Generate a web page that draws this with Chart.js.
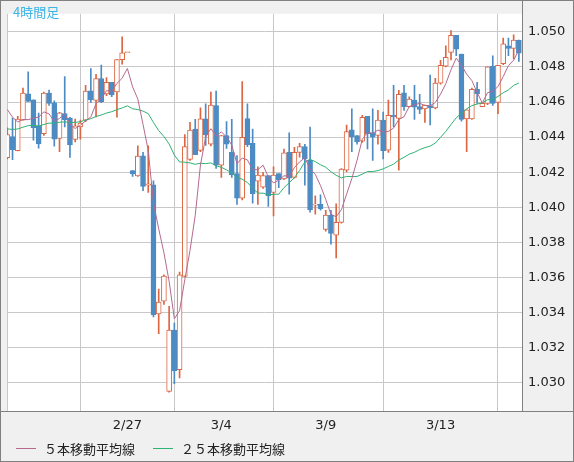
<!DOCTYPE html>
<html><head><meta charset="utf-8">
<script src="https://cdn.jsdelivr.net/npm/chart.js@4/dist/chart.umd.min.js"></script>
<style>
html,body{margin:0;padding:0;background:#f0f0f0;}
#wrap{position:relative;width:574px;height:462px;overflow:hidden;}
canvas{position:absolute;left:0;top:0;}
.t{position:absolute;font-family:"DejaVu Sans",sans-serif;font-size:13px;color:#222;white-space:nowrap;}
.ln{position:absolute;height:1px;width:20px;}
</style></head><body>
<div id="wrap">
<canvas id="c" width="574" height="462"></canvas>
<div class="t" style="left:13px;top:2px;color:#3cb4e6;font-family:'Noto Sans CJK JP',sans-serif;font-size:13px;">4時間足</div>
<div class="ln" style="left:16px;top:448px;background:#b5698f"></div>
<div class="t" style="left:44px;top:439px;font-family:'Noto Sans CJK JP',sans-serif;">５本移動平均線</div>
<div class="ln" style="left:153px;top:448px;background:#2fb273"></div>
<div class="t" style="left:181px;top:439px;font-family:'Noto Sans CJK JP',sans-serif;">２５本移動平均線</div>
</div>
<script>
const xTickIndex=[23,41,61,83];
const xTickLabels=['2/27','3/4','3/9','3/13'];
const yTicks=[1.030,1.032,1.034,1.036,1.038,1.040,1.042,1.044,1.046,1.048,1.050];
const priorCloses=[1.0441,1.0443,1.0440,1.0438,1.0442,1.0445,1.0443,1.0440,1.0439,1.0441,1.0444,1.0446,1.0443,1.0440,1.0441,1.0443,1.0442,1.0440,1.0442,1.0445,1.04552,1.04635,1.0458,1.04607];
const opens=[1.04282,1.04403,1.04322,1.04497,1.04646,1.04613,1.04464,1.0442,1.04651,1.04596,1.04392,1.04534,1.04508,1.04387,1.04458,1.04497,1.04664,1.04609,1.04734,1.04646,1.04712,1.04657,1.04842,1.04881,1.04209,1.04179,1.04293,1.04126,1.04128,1.03391,1.03465,1.0295,1.033,1.03074,1.03606,1.04273,1.04446,1.04324,1.04504,1.04359,1.0458,1.0424,1.04409,1.04313,1.04192,1.04052,1.04506,1.04365,1.04148,1.04115,1.04181,1.04084,1.04192,1.04162,1.04313,1.0417,1.04313,1.04346,1.04267,1.04012,1.04016,1.03873,1.03955,1.0384,1.03914,1.04212,1.04442,1.04409,1.04377,1.04519,1.04424,1.04409,1.04497,1.04326,1.04524,1.04506,1.04653,1.04574,1.04611,1.04574,1.04561,1.0458,1.04567,1.04708,1.04804,1.04883,1.0498,1.04873,1.04504,1.04504,1.04672,1.04574,1.04592,1.04805,1.04598,1.04818,1.0492,1.04905,1.04953];
const highs=[1.04453,1.04508,1.04519,1.04679,1.04772,1.04613,1.04537,1.04657,1.04668,1.04607,1.04541,1.04745,1.04513,1.04502,1.04497,1.04695,1.04791,1.04758,1.04811,1.04739,1.04712,1.04842,1.04971,1.04881,1.04209,1.0435,1.04313,1.0435,1.0415,1.03533,1.03614,1.03435,1.0334,1.0363,1.04414,1.04484,1.04501,1.04567,1.04589,1.04657,1.04662,1.04409,1.04488,1.04501,1.04295,1.04717,1.04589,1.04446,1.04231,1.04199,1.04181,1.04231,1.04192,1.04332,1.04424,1.04341,1.04365,1.04359,1.04457,1.04065,1.04071,1.03983,1.03983,1.04019,1.04221,1.04469,1.04561,1.04409,1.04524,1.04519,1.04561,1.04552,1.04543,1.04611,1.04695,1.04666,1.04695,1.04629,1.04695,1.04644,1.04583,1.04754,1.04735,1.04837,1.0492,1.05008,1.0498,1.04873,1.04556,1.0468,1.04712,1.04592,1.048,1.04864,1.04809,1.04965,1.04965,1.04983,1.04953];
const lows=[1.04276,1.04271,1.04321,1.04497,1.04602,1.04383,1.04337,1.04409,1.0458,1.04348,1.04317,1.04458,1.04284,1.04372,1.04388,1.04488,1.04598,1.04515,1.04596,1.04636,1.04631,1.04513,1.04816,1.04881,1.04176,1.04176,1.04095,1.04084,1.03375,1.03279,1.03446,1.02945,1.02994,1.03027,1.03604,1.04267,1.04299,1.04317,1.04352,1.0435,1.04221,1.0417,1.04335,1.0417,1.04016,1.04041,1.04346,1.04023,1.04016,1.04107,1.04005,1.0395,1.04111,1.04157,1.04074,1.04166,1.04286,1.04126,1.03972,1.03961,1.03983,1.03863,1.0379,1.03711,1.03909,1.04203,1.04317,1.04359,1.04369,1.04332,1.04267,1.04359,1.04276,1.04313,1.0446,1.04212,1.04552,1.0457,1.04501,1.04534,1.04484,1.04469,1.04561,1.04702,1.048,1.0484,1.04864,1.04491,1.04317,1.04501,1.04592,1.04574,1.04585,1.0458,1.04534,1.04813,1.04864,1.04846,1.04831];
const closes=[1.04414,1.04328,1.04502,1.04651,1.04603,1.04454,1.04361,1.04651,1.04592,1.04388,1.04539,1.04499,1.04355,1.04464,1.0448,1.04662,1.04614,1.04734,1.04602,1.04712,1.0464,1.04842,1.04881,1.04881,1.0419,1.04291,1.04118,1.04133,1.03386,1.03459,1.03608,1.033,1.03066,1.03615,1.04346,1.0444,1.04299,1.04504,1.04413,1.04583,1.0424,1.04409,1.04359,1.04184,1.04052,1.04398,1.04357,1.04078,1.04184,1.04181,1.04065,1.04184,1.04157,1.0431,1.04166,1.04313,1.04346,1.04276,1.03986,1.04016,1.03992,1.03955,1.03851,1.03914,1.04218,1.04432,1.04402,1.04372,1.04512,1.0442,1.04399,1.04497,1.04322,1.04524,1.04515,1.04644,1.04574,1.04616,1.0457,1.04558,1.04583,1.04567,1.04708,1.04809,1.04855,1.0498,1.04901,1.04501,1.04556,1.04672,1.04647,1.04592,1.048,1.04592,1.04809,1.04932,1.04906,1.04953,1.04879];

const UP='#dc6642', DOWN='#4c8bc3';
const all=priorCloses.concat(closes);
function sma(n){return closes.map((c,i)=>{const j=i+priorCloses.length;let s=0;for(let k=j-n+1;k<=j;k++)s+=all[k];return {x:i,y:s/n};});}
const bodies=opens.map((o,i)=>({x:i,y:[o,closes[i]]}));
const wicks=opens.map((o,i)=>({x:i,y:[lows[i],highs[i]]}));
const isUp=i=>closes[i]>=opens[i];

const bgPlugin={id:'bg',beforeDraw(ch){const {ctx,chartArea:a}=ch;ctx.save();ctx.fillStyle='#f0f0f0';ctx.fillRect(0,0,574,462);ctx.fillStyle='#fff';ctx.fillRect(a.left,a.top,a.right-a.left,a.bottom-a.top);ctx.strokeStyle='#c8c8c8';ctx.beginPath();ctx.moveTo(a.left+0.5,a.top);ctx.lineTo(a.left+0.5,a.bottom);ctx.stroke();ctx.restore();},
 afterDraw(ch){const {ctx,chartArea:a}=ch;ctx.save();ctx.strokeStyle='#808080';ctx.lineWidth=1;ctx.beginPath();ctx.moveTo(0,0.5);ctx.lineTo(574,0.5);ctx.moveTo(0.5,0);ctx.lineTo(0.5,462);ctx.moveTo(a.right+0.5,0);ctx.lineTo(a.right+0.5,a.bottom);ctx.moveTo(0,a.bottom+0.5);ctx.lineTo(574,a.bottom+0.5);ctx.moveTo(0,461.5);ctx.lineTo(574,461.5);ctx.moveTo(573.5,0);ctx.lineTo(573.5,462);ctx.stroke();ctx.restore();}};

new Chart(document.getElementById('c'),{
 type:'bar',
 data:{datasets:[
  {type:'line',data:sma(5),borderColor:'#b5698f',borderWidth:1,pointRadius:0,tension:0},
  {type:'line',data:sma(25),borderColor:'#2fb273',borderWidth:1,pointRadius:0,tension:0},
  {data:bodies,barThickness:5,minBarLength:1,borderWidth:1,borderSkipped:false,grouped:false,
   backgroundColor:c=>isUp(c.dataIndex)?'#ffffff':DOWN,borderColor:c=>isUp(c.dataIndex)?UP:DOWN},
  {data:wicks,barThickness:1,borderWidth:0,grouped:false,backgroundColor:c=>isUp(c.dataIndex)?UP:DOWN}
 ]},
 options:{responsive:false,animation:false,
  layout:{padding:{left:7,top:0,right:0,bottom:0}},
  plugins:{legend:{display:false},tooltip:{enabled:false}},
  scales:{
   x:{type:'linear',min:-0.06,max:98.6,offset:false,
    afterBuildTicks:s=>{s.ticks=xTickIndex.map(v=>({value:v}));},
    afterFit:s=>{s.height=51;},
    ticks:{autoSkip:false,maxRotation:0,padding:7,color:'#222',font:{family:'DejaVu Sans',size:13},callback:v=>xTickLabels[xTickIndex.indexOf(v)]||''},
    grid:{color:'#c8c8c8',drawTicks:false},border:{display:false}},
   y:{position:'right',min:1.02838,max:1.05103,
    afterBuildTicks:s=>{s.ticks=yTicks.map(v=>({value:v}));},
    afterFit:s=>{s.width=52;},
    ticks:{padding:6,color:'#222',font:{family:'DejaVu Sans',size:13},callback:v=>v.toFixed(3)},
    grid:{color:'#c8c8c8',drawTicks:false},border:{display:false}}
  }},
 plugins:[bgPlugin]
});
</script></body></html>
